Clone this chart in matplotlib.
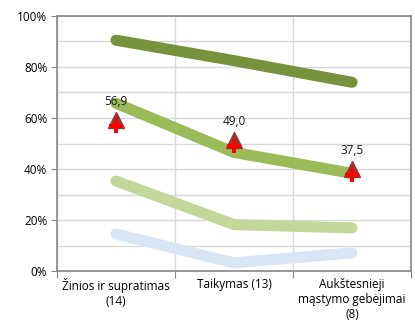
import matplotlib
matplotlib.use("Agg")
import matplotlib.pyplot as plt
import matplotlib.transforms as mtransforms
import numpy as np

categories = ["Žinios ir supratimas\n(14)", "Taikymas (13)", "Aukštesnieji\nmąstymo gebėjimai\n(8)"]
dark_green = [90.5, 82.5, 74.0]
mid_green = [65.8, 46.5, 38.3]
light_green = [35.3, 18.2, 16.9]
light_blue = [14.5, 3.2, 7.1]
marker_vals = [56.9, 49.0, 37.5]
marker_labels = ["56,9", "49,0", "37,5"]

plt.rcParams['font.family'] = ['Open Sans', 'DejaVu Sans']

fig = plt.figure(figsize=(4.15, 3.33), dpi=100)
ax = fig.add_axes([57/415, 62/333, (411-57)/415, (271-16)/333])

x = np.arange(len(categories)) + 0.5
lw = 8
for vals, col in [(light_blue, '#dae5f3'), (light_green, '#c4d79b'),
                  (mid_green, '#9bbb59'), (dark_green, '#76923c')]:
    ax.plot(x, vals, color=col, lw=lw, solid_capstyle='round', solid_joinstyle='round', zorder=3)

tri_trans = mtransforms.offset_copy(ax.transData, fig=fig, x=0, y=6, units='dots')
ax.plot(x, marker_vals, linestyle='none', marker='^', ms=11, color='#953735',
        transform=tri_trans, zorder=4)
ax.plot(x, marker_vals, linestyle='none', marker='P', ms=10.5, color='#ff0000',
        markeredgewidth=0, zorder=5)
for xi, v, lab in zip(x, marker_vals, marker_labels):
    ax.annotate(lab, (xi, v), xytext=(0, 13), textcoords='offset points',
                ha='center', va='bottom', fontsize=8.5, color='#1a1a1a', zorder=6)

ax.set_xlim(0, 3)
ax.set_ylim(0, 100)
ax.set_yticks(np.arange(0, 101, 20))
ax.set_yticklabels([f"{v}%" for v in range(0, 101, 20)], fontsize=8.5)
ax.set_yticks(np.arange(10, 100, 20), minor=True)
ax.set_xticks([0, 1, 2, 3])
ax.set_xticklabels([])
ax.set_xticks(x, minor=True)
ax.set_xticklabels(categories, minor=True, fontsize=8.5)
ax.tick_params(axis='x', which='minor', length=0, pad=5)
ax.tick_params(axis='x', which='major', length=5, color='#868686')
ax.tick_params(axis='y', which='major', length=4, color='#868686', pad=3)
ax.tick_params(axis='y', which='minor', length=0)
ax.grid(True, which='major', color='#d9d9d9', lw=1)
ax.grid(True, which='minor', axis='y', color='#d9d9d9', lw=1)
ax.set_axisbelow(True)
for s in ax.spines.values():
    s.set_color('#868686')
    s.set_linewidth(1.2)

fig.savefig("out.png", dpi=100)
